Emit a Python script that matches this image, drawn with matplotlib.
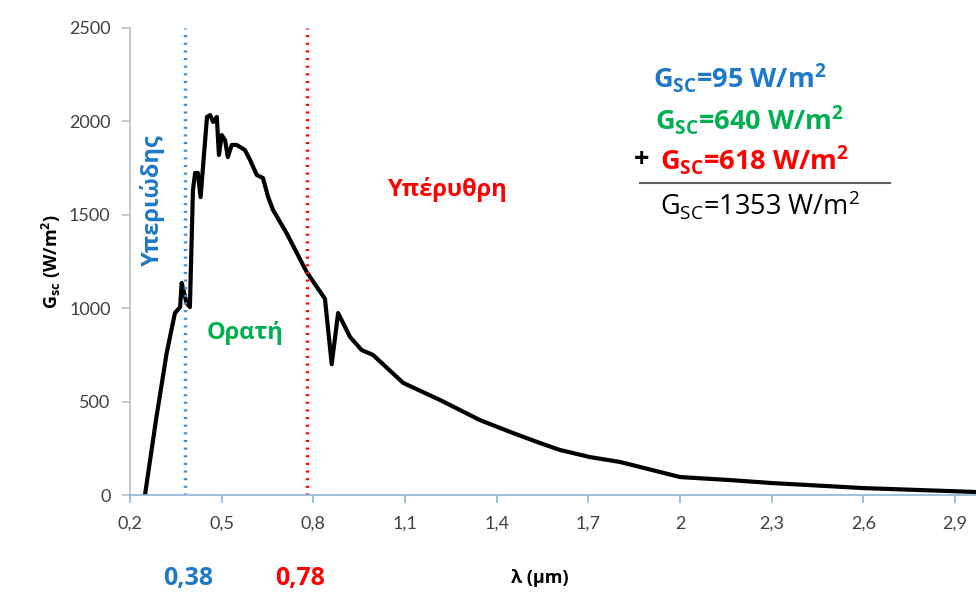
import matplotlib.pyplot as plt
import matplotlib as mpl

mpl.rcParams['font.family'] = ['Lato', 'DejaVu Sans']
mpl.rcParams['mathtext.fontset'] = 'custom'
mpl.rcParams['mathtext.rm'] = 'Open Sans'
mpl.rcParams['mathtext.bf'] = 'Open Sans:bold'

# spectrum (wavelength in um, irradiance in W/m2)
wavelength = [0.249, 0.285, 0.320, 0.347, 0.364, 0.369, 0.375, 0.385, 0.396,
              0.406, 0.413, 0.422, 0.431, 0.452, 0.462, 0.472, 0.484, 0.491,
              0.500, 0.511, 0.520, 0.533, 0.549, 0.576, 0.593, 0.615, 0.635,
              0.652, 0.668, 0.712, 0.778, 0.838, 0.860, 0.881, 0.920, 0.958,
              0.995, 1.094, 1.214, 1.345, 1.453, 1.542, 1.607, 1.705, 1.803,
              1.869, 2.000, 2.163, 2.300, 2.600, 2.970, 3.000]
irradiance = [0, 401, 760, 974, 1006, 1135, 1097, 1028, 1006,
              1633, 1724, 1724, 1595, 2024, 2034, 1997, 2024, 1820,
              1927, 1900, 1809, 1874, 1874, 1847, 1793, 1713, 1697,
              1595, 1526, 1403, 1194, 1050, 700, 974, 846, 776,
              750, 600, 509, 401, 332, 278, 241, 203, 177,
              150, 96, 80, 64, 37, 16, 15]

uv_limit = 0.38
ir_limit = 0.78
xticks = [0.2, 0.5, 0.8, 1.1, 1.4, 1.7, 2.0, 2.3, 2.6, 2.9]
xtick_labels = ['0,2', '0,5', '0,8', '1,1', '1,4', '1,7', '2', '2,3', '2,6', '2,9']
yticks = [0, 500, 1000, 1500, 2000, 2500]

blue = '#1f78c8'
green = '#00b050'
red = '#ff0000'
greek = ['Open Sans', 'DejaVu Sans']

fig = plt.figure(figsize=(9.76, 5.92), dpi=100)
ax = fig.add_axes([130 / 976, 1 - 495 / 592, 855.7 / 976, 467 / 592])

ax.plot(wavelength, irradiance, color='black', lw=3, solid_joinstyle='round')
ax.plot([uv_limit, uv_limit], [0, 2500], color='#3a90d8', lw=2.5, ls=(0, (0.6, 1.6)))
ax.plot([ir_limit, ir_limit], [0, 2500], color=red, lw=2.5, ls=(0, (0.6, 1.6)))

ax.set_xlim(0.2, 3.0)
ax.set_ylim(0, 2500)
ax.set_xticks(xticks)
ax.set_xticklabels(xtick_labels)
ax.set_yticks(yticks)
ax.tick_params(axis='both', labelsize=13, labelcolor='#404040')
ax.tick_params(axis='x', color='#8fb4dc', length=6, width=1.2, pad=9)
ax.tick_params(axis='y', color='#bfbfbf', length=6, width=1.2, pad=8)
for side in ['top', 'right']:
    ax.spines[side].set_visible(False)
ax.spines['left'].set_color('#bfbfbf')
ax.spines['left'].set_linewidth(1.2)
ax.spines['bottom'].set_color('#8fb4dc')
ax.spines['bottom'].set_linewidth(1.2)

ax.set_ylabel(r'G$_{\mathbf{sc}}$ (W/m$^{\mathbf{2}}$)', fontsize=13,
              fontweight='bold', labelpad=4, family=greek)

# region labels
ax.text(0.272, 1580, 'Υπεριώδης', color=blue, fontsize=17, rotation=90,
        ha='center', va='center', fontweight='bold', family=greek)
ax.text(0.576, 867, 'Ορατή', color=green, fontsize=17, ha='center', va='center',
        fontweight='bold', family=greek)
ax.text(1.24, 1633, 'Υπέρυθρη', color=red, fontsize=17, ha='center', va='center',
        fontweight='bold', family=greek)

# sum of irradiances
fs = 19.5
fig.text(653 / 976, 1 - 78 / 592, r'G$_{\mathbf{SC}}$=95 W/m$^{\mathbf{2}}$', color=blue,
         fontsize=fs, fontweight='bold', va='center', family=greek)
fig.text(655 / 976, 1 - 120 / 592, r'G$_{\mathbf{SC}}$=640 W/m$^{\mathbf{2}}$', color=green,
         fontsize=fs, fontweight='bold', va='center', family=greek)
fig.text(634 / 976, 1 - 160 / 592, '+', color='black', fontsize=fs,
         fontweight='bold', va='center', family=greek)
fig.text(660 / 976, 1 - 160 / 592, r'G$_{\mathbf{SC}}$=618 W/m$^{\mathbf{2}}$', color=red,
         fontsize=fs, fontweight='bold', va='center', family=greek)
fig.add_artist(plt.Line2D([640 / 976, 890 / 976], [1 - 183 / 592, 1 - 183 / 592],
                          color='#606060', lw=1.5))
fig.text(660 / 976, 1 - 205 / 592, r'G$_{\mathrm{SC}}$=1353 W/m$^{2}$', color='black',
         fontsize=fs, va='center', family=greek)

# labels under the axis
fig.text(188 / 976, 1 - 578 / 592, '0,38', color=blue, fontsize=18,
         fontweight='bold', ha='center', va='center', family=greek)
fig.text(300 / 976, 1 - 578 / 592, '0,78', color=red, fontsize=18,
         fontweight='bold', ha='center', va='center', family=greek)
fig.text(540 / 976, 1 - 578 / 592, 'λ (μm)', fontsize=13, fontweight='bold',
         ha='center', va='center', family=greek)

fig.savefig('out.png', dpi=100)
